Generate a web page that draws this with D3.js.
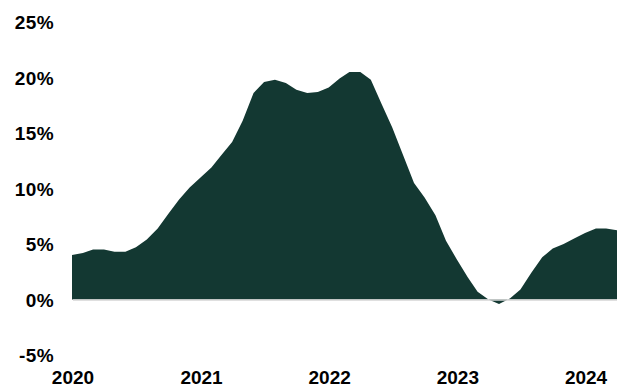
<!DOCTYPE html>
<html>
<head>
<meta charset="utf-8">
<script src="https://cdn.jsdelivr.net/npm/d3@7"></script>
<style>
  html, body { margin: 0; padding: 0; background: #fff; }
  svg { display: block; }
  .tick text { font-family: "Liberation Sans", Arial, sans-serif; font-weight: bold; font-size: 19px; fill: #000; }
</style>
</head>
<body>
<svg id="chart" width="617" height="387"></svg>
<script>
// Monthly values, Jan 2020 .. Apr 2024 (percent)
const startMonth = "2020-01";
const values = [
  4.0, 4.2, 4.5, 4.5, 4.3, 4.3, 4.7, 5.4, 6.4, 7.7, 9.0, 10.1,
  11.0, 11.9, 13.0, 14.2, 16.1, 18.6, 19.6, 19.8, 19.5, 18.9, 18.6, 18.7,
  19.1, 19.9, 20.5, 20.5, 19.8, 17.6, 15.5, 13.0, 10.5, 9.2, 7.6, 5.3,
  3.6, 2.0, 0.7, 0.0, -0.4, 0.1, 0.9, 2.4, 3.8, 4.6, 5.0, 5.5,
  6.0, 6.4, 6.4, 6.25
];
const yTicks = [-5, 0, 5, 10, 15, 20, 25];
const xTickYears = [2020, 2021, 2022, 2023, 2024];

const svg = d3.select("#chart");
const parse = d3.timeParse("%Y-%m");
const t0 = parse(startMonth);
const data = values.map((v, i) => ({ date: d3.timeMonth.offset(t0, i), value: v }));

const x = d3.scaleTime()
  .domain([t0, data[data.length - 1].date])
  .range([72, 617]);
const y = d3.scaleLinear().domain([0, 25]).range([299.5, 22]);

const area = d3.area()
  .x(d => x(d.date))
  .y0(y(0))
  .y1(d => y(d.value))
  .curve(d3.curveLinear);

svg.append("path")
  .datum(data)
  .attr("d", area)
  .attr("fill", "#133832");

// zero line
svg.append("line")
  .attr("x1", 73).attr("x2", 617)
  .attr("y1", y(0) + 0.5).attr("y2", y(0) + 0.5)
  .attr("stroke", "#d4d4d4")
  .attr("stroke-width", 1.5);

// Y axis
const yAxis = d3.axisLeft(y)
  .tickValues(yTicks)
  .tickSize(0)
  .tickPadding(0)
  .tickFormat(d => d + "%");
const yg = svg.append("g").attr("transform", "translate(54,0)").call(yAxis);
yg.select(".domain").remove();
yg.selectAll(".tick text").attr("dy", "0.35em").attr("x", 0).style("letter-spacing", "0.4px");

// X axis
const xAxis = d3.axisBottom(x)
  .tickValues(xTickYears.map(yr => new Date(yr, 0, 1)))
  .tickSize(0)
  .tickPadding(0)
  .tickFormat(d3.timeFormat("%Y"));
const xg = svg.append("g").attr("transform", "translate(0,370)").call(xAxis);
xg.select(".domain").remove();
xg.selectAll(".tick text").attr("dy", "0").attr("y", 14).attr("dx", "0.5");
</script>
</body>
</html>
